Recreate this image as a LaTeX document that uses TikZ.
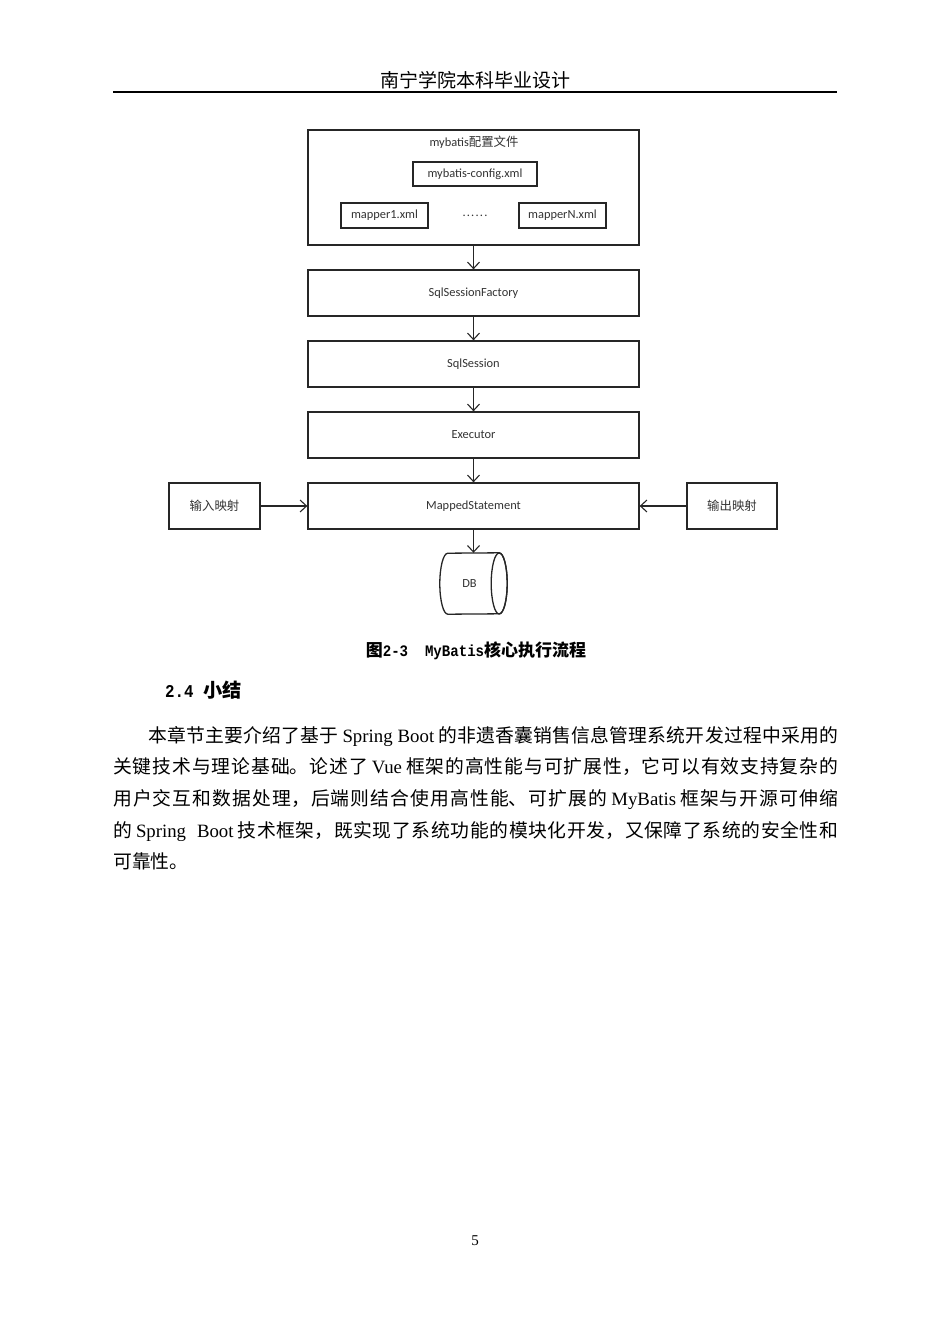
\documentclass[tikz,border=0pt]{standalone}
\usepackage{fontspec}
\setmainfont{Liberation Serif}
\newfontfamily\cjk{Noto Sans CJK SC}
\newfontfamily\calfont{Carlito}
\newfontfamily\monofont[FakeStretch=0.88]{Liberation Mono}
\usetikzlibrary{arrows.meta}
\newcommand\lat[1]{{\rmfamily #1}}
\tikzset{
  box/.style={draw=black!85, line width=1.3pt, inner sep=0pt, text=black!80,
    font=\fontsize{12.4}{14}\selectfont\calfont},
  flow/.style={draw=black!85, line width=1.2pt, -{Straight Barb[length=6.5pt,width=12pt,line width=1.1pt]}},
  zh/.style={font=\fontsize{12.4}{14}\selectfont\cjk},
}
\begin{document}
\begin{tikzpicture}[x=1pt,y=-1pt]
\useasboundingbox (0,0) rectangle (950,1344);
\fill[white] (0,0) rectangle (950,1344);

% header
\node[anchor=base, inner sep=0, font=\fontsize{19}{22}\selectfont\cjk] (hdr) at (475,87) {南宁学院本科毕业设计};
\coordinate (hl) at (113,92);
\coordinate (hr) at (837,92);
\draw[line width=1.8pt] (hl) -- (hr);

% config outer box
\node[box, minimum width=331pt, minimum height=115pt] (cfgbox) at (473.5,187.5) {};
\node[inner sep=0, text=black!80] (cfgtitle) at (474,142) {\fontsize{12.4}{14}\selectfont\calfont mybatis\cjk 配置文件};
\node[box, minimum width=124pt, minimum height=24pt] (cfg) at (475,174) {mybatis-config.xml};
\node[box, minimum width=87pt, minimum height=25pt] (m1) at (384.5,215.5) {mapper1.xml};
\node[inner sep=0, text=black!80, font=\fontsize{12.4}{14}\selectfont\calfont] (dots) at (475,216)
  {\makebox[25pt][s]{.\hfil.\hfil.\hfil.\hfil.\hfil.}};
\node[box, minimum width=87pt, minimum height=25pt] (mN) at (562.5,215.5) {mapperN.xml};

% chain
\node[box, minimum width=331pt, minimum height=46pt] (ssf) at (473.5,293) {SqlSessionFactory};
\node[box, minimum width=331pt, minimum height=46pt] (ss) at (473.5,364) {SqlSession};
\node[box, minimum width=331pt, minimum height=46pt] (ex) at (473.5,435) {Executor};
\node[box, minimum width=331pt, minimum height=46pt] (ms) at (473.5,506) {MappedStatement};
\node[box, zh, minimum width=91pt, minimum height=46pt] (inmap) at (214.5,506) {输入映射};
\node[box, zh, minimum width=90pt, minimum height=46pt] (outmap) at (732,506) {输出映射};

% DB cylinder
\node[inner sep=0, minimum width=59pt, minimum height=61pt, text=black!80,
      font=\fontsize{12.4}{14}\selectfont\calfont] (db) at (469.5,583.5) {DB};
\draw[draw=black!85, line width=1.3pt]
  ([xshift=8pt]db.south west) arc[start angle=270, end angle=90, x radius=8pt, y radius=30.5pt]
  -- (db.north east) arc[start angle=90, end angle=-90, x radius=8pt, y radius=30.5pt] -- cycle;
\draw[draw=black!85, line width=1.3pt] (db.east) ellipse[x radius=8pt, y radius=30.5pt];

% connectors
\draw[flow] (cfgbox.south) -- (ssf.north);
\draw[flow] (ssf.south) -- (ss.north);
\draw[flow] (ss.south) -- (ex.north);
\draw[flow] (ex.south) -- (ms.north);
\draw[flow] (ms.south) -- (ms.south |- db.north);
\draw[flow] (inmap.east) -- (ms.west);
\draw[flow] (outmap.west) -- (ms.east);

% caption
\node[anchor=base, inner sep=0] (cap) at (476,656)
  {\bfseries\fontsize{17}{20}\selectfont\cjk 图\monofont\fontsize{16}{20}\selectfont 2-3\ \ MyBatis\cjk\fontsize{17}{20}\selectfont 核心执行流程};

% section heading
\node[anchor=base west, inner sep=0] (sec) at (165,697)
  {\bfseries\monofont\fontsize{18}{20}\selectfont 2.4 \cjk\fontsize{19.2}{22}\selectfont 小结};

% paragraph
\node[anchor=base west, inner sep=0] (para) at (113,742) {%
\parbox[t]{725pt}{\XeTeXlinebreaklocale "zh"\XeTeXlinebreakskip=0pt plus 2pt\relax
\fontsize{18.8}{31.7}\selectfont\cjk
\hspace*{35pt}本章节主要介绍了基于\hspace{4pt}\lat{Spring Boot}\hspace{4pt}的非遗香囊销售信息管理系统开发过程中采用的\linebreak
关键技术与理论基础。论述了\hspace{4pt}\lat{Vue}\hspace{4pt}框架的高性能与可扩展性，它可以有效支持复杂的\linebreak
用户交互和数据处理，后端则结合使用高性能、可扩展的\hspace{4pt}\lat{MyBatis}\hspace{4pt}框架与开源可伸缩\linebreak
的\hspace{4pt}\lat{Spring\ \ Boot}\hspace{4pt}技术框架，既实现了系统功能的模块化开发，又保障了系统的安全性和\linebreak
可靠性。}};

% page number
\node[anchor=base, inner sep=0, font=\fontsize{15}{18}\selectfont] (pg) at (475,1245) {5};
\end{tikzpicture}
\end{document}
